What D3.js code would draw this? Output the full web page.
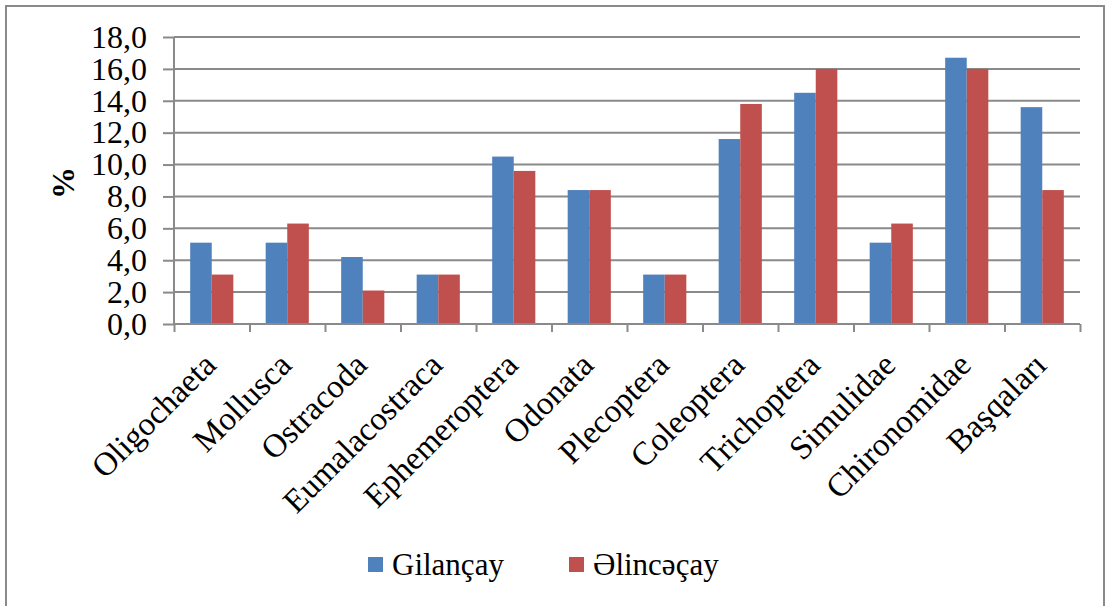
<!DOCTYPE html>
<html>
<head>
<meta charset="utf-8">
<script src="https://cdn.jsdelivr.net/npm/d3@7"></script>
<style>
  body { margin: 0; background: #fff; }
  svg { display: block; font-family: "Liberation Serif", "DejaVu Serif", serif; }
  .grid line { stroke: #8a8a8a; stroke-width: 2; }
  .axis path, .axis line { stroke: #8a8a8a; stroke-width: 2; }
  .axis text { fill: #000; font-size: 32px; font-family: "Liberation Serif", "DejaVu Serif", serif; }
  .legend text { font-family: "Liberation Serif", "DejaVu Serif", serif; fill: #000; }
</style>
</head>
<body>
<svg width="1106" height="606"></svg>
<script>
var categories = ["Oligochaeta", "Mollusca", "Ostracoda", "Eumalacostraca", "Ephemeroptera",
                  "Odonata", "Plecoptera", "Coleoptera", "Trichoptera", "Simulidae",
                  "Chironomidae", "Başqaları"];
var gilancay  = [5.1, 5.1, 4.2, 3.1, 10.5, 8.4, 3.1, 11.6, 14.5, 5.1, 16.7, 13.6];
var elincecay = [3.1, 6.3, 2.1, 3.1, 9.6, 8.4, 3.1, 13.8, 16.0, 6.3, 16.0, 8.4];
var seriesNames = ["Gilançay", "Əlincəçay"];
var yTicks = [0, 2, 4, 6, 8, 10, 12, 14, 16, 18];

var margin = {top: 37, right: 26, bottom: 282, left: 174},
    width = 1106 - margin.left - margin.right,
    height = 606 - margin.top - margin.bottom;

var svg = d3.select("svg"),
    g = svg.append("g").attr("transform", "translate(" + margin.left + "," + margin.top + ")");

// chart frame
svg.append("rect")
    .attr("x", 6).attr("y", 6)
    .attr("width", 1098).attr("height", 640)
    .attr("fill", "none")
    .attr("stroke", "#8a8a8a")
    .attr("stroke-width", 2);

var data = categories.map(function(c, i) {
  return {cat: c, values: [gilancay[i], elincecay[i]]};
});

var x0 = d3.scaleBand().domain(categories).range([0, width]).padding(0);
var x1 = d3.scaleBand().domain([0, 1]).range([0, x0.bandwidth()])
    .paddingInner(0).paddingOuter(0.75);
var xEdge = d3.scaleLinear().domain([0, categories.length]).range([0, width]);
var y = d3.scaleLinear().domain([0, 18]).range([height, 0]);
var z = d3.scaleOrdinal().domain([0, 1]).range(["#4f81bd", "#c0504d"]);

// gridlines
g.append("g")
    .attr("class", "grid")
  .selectAll("line")
  .data(yTicks.slice(1))
  .enter().append("line")
    .attr("x1", 0).attr("x2", width)
    .attr("y1", function(d) { return y(d); })
    .attr("y2", function(d) { return y(d); });

// bars
g.append("g")
  .selectAll("g")
  .data(data)
  .enter().append("g")
    .attr("transform", function(d) { return "translate(" + x0(d.cat) + ",0)"; })
  .selectAll("rect")
  .data(function(d) { return d.values.map(function(v, k) { return {k: k, v: v}; }); })
  .enter().append("rect")
    .attr("x", function(d) { return x1(d.k); })
    .attr("y", function(d) { return y(d.v); })
    .attr("width", x1.bandwidth())
    .attr("height", function(d) { return height - y(d.v); })
    .attr("fill", function(d) { return z(d.k); });

// Y axis
g.append("g")
    .attr("class", "axis")
    .call(d3.axisLeft(y).tickValues(yTicks).tickSize(11).tickPadding(16)
      .tickFormat(function(d) { return d3.format(".1f")(d).replace(".", ","); }))
    .call(function(a) { a.select(".domain").attr("d", "M0," + height + "V0"); });

// X axis (ticks between categories)
g.append("g")
    .attr("class", "axis")
    .attr("transform", "translate(0," + height + ")")
    .call(d3.axisBottom(xEdge).ticks(categories.length).tickSize(8).tickFormat(""))
    .call(function(a) { a.select(".domain").attr("d", "M0,0H" + width); });

// category labels
g.append("g")
  .selectAll("text")
  .data(categories)
  .enter().append("text")
    .attr("transform", function(d) {
      return "translate(" + (x0(d) + x0.bandwidth() / 2 + 6) + "," + (height + 43) + ") rotate(-45)";
    })
    .attr("text-anchor", "end")
    .attr("font-size", 33)
    .text(function(d) { return d; });

// y label
svg.append("text")
    .attr("transform", "translate(74,183) rotate(-90)")
    .attr("text-anchor", "middle")
    .attr("font-size", 32)
    .attr("font-weight", "bold")
    .text("%");

// legend
var legend = svg.append("g")
    .attr("class", "legend")
  .selectAll("g")
  .data(seriesNames)
  .enter().append("g")
    .attr("transform", function(d, i) { return "translate(" + (i === 0 ? 368 : 569) + ",557)"; });

legend.append("rect")
    .attr("width", 15).attr("height", 15)
    .attr("fill", function(d, i) { return z(i); });

legend.append("text")
    .attr("x", 24)
    .attr("y", 18)
    .attr("font-family", "Liberation Serif")
    .attr("font-size", 31)
    .text(function(d) { return d; });
</script>
</body>
</html>
